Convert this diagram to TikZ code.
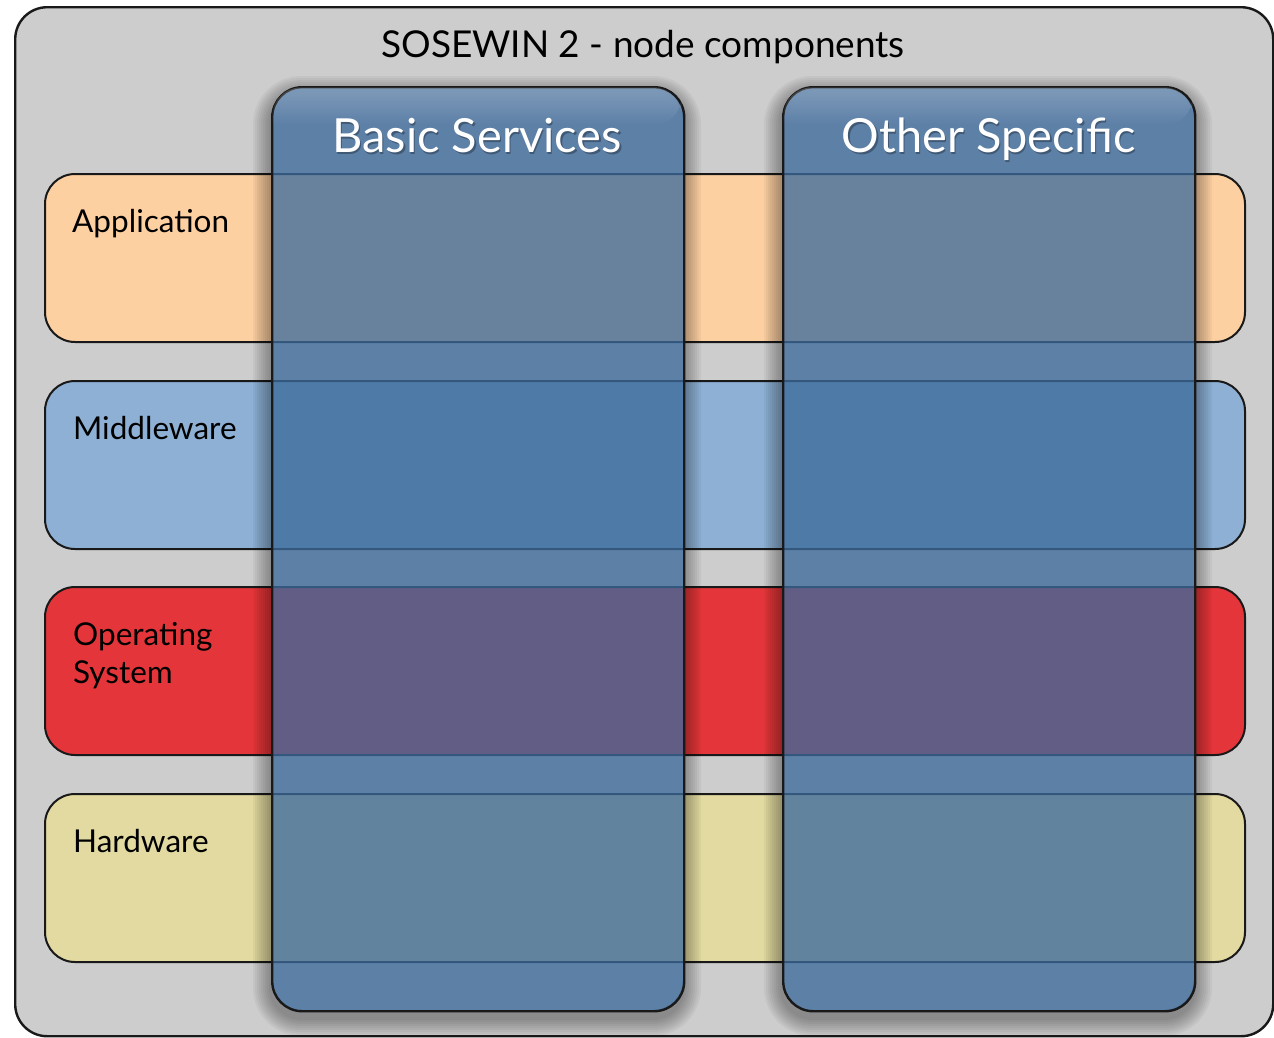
\documentclass[tikz,border=0pt]{standalone}
\usepackage{fontspec}
\setmainfont{Lato}
\usetikzlibrary{fadings}

\definecolor{panelgray}{RGB}{205,205,205}
\definecolor{appcol}{RGB}{253,208,162}
\definecolor{midcol}{RGB}{141,176,212}
\definecolor{oscol}{RGB}{228,54,58}
\definecolor{hwcol}{RGB}{226,218,161}
\definecolor{colblue}{RGB}{60,106,156}
\definecolor{edge}{RGB}{25,25,25}

\tikzset{
  panel/.style={draw=edge, line width=2.4pt, fill=panelgray, rounded corners=32pt,
    anchor=north west, inner sep=0pt, minimum width=1258pt, minimum height=1029pt},
  layer/.style={draw=edge, line width=2pt, rounded corners=30pt, anchor=north west,
    inner sep=0pt, minimum width=1200pt, minimum height=168pt},
  pillar/.style={draw=edge, line width=2.4pt, fill=colblue, fill opacity=0.77,
    draw opacity=1, rounded corners=30pt, anchor=north west, inner sep=0pt,
    minimum width=412pt, minimum height=924pt},
  layerlabel/.style={anchor=base west, inner sep=0pt, font=\fontsize{31.5}{38}\selectfont,
    text=black, align=left},
  pillartitle/.style={anchor=base, inner sep=0pt, font=\fontsize{47}{56}\selectfont, text=white},
  pillarshade/.style={anchor=base, inner sep=0pt, font=\fontsize{47}{56}\selectfont, text=black,
    text opacity=0.3},
}

\newcommand{\pillarshadow}[4]{%
  % soft shadow ring around a pillar, drawn outside its outline only
  \foreach \k in {1,...,9}{
    \pgfmathsetmacro{\d}{2*\k}
    \pgfmathsetmacro{\r}{30+2*\k}
    \fill[black, opacity=0.04, even odd rule]
      [rounded corners=\r pt] ({#1-\d},{#2-\d+8}) rectangle ({#3+\d},{#4+\d+8})
      [rounded corners=30pt] (#1,#2) rectangle (#3,#4);
  }%
}

\begin{document}
\begin{tikzpicture}[x=1pt, y=-1pt]
  \useasboundingbox (0,0) rectangle (1274,1037);

  % outer panel and its heading
  \node[panel] (frame) at (14,6) {};
  \node[anchor=base, inner sep=0pt, font=\fontsize{37}{42}\selectfont] (heading) at (643,57)
    {SOSEWIN 2 - node components};

  % horizontal layers
  \node[layer, fill=appcol] (app) at (44,173) {};
  \node[layer, fill=midcol] (mid) at (44,380) {};
  \node[layer, fill=oscol]  (os)  at (44,586) {};
  \node[layer, fill=hwcol]  (hw)  at (44,793) {};

  \node[layerlabel] (applbl) at (72,232) {Application};
  \node[layerlabel] (midlbl) at (73,439) {Middleware};
  \node[layerlabel, anchor=west] (oslbl) at (73,656) {Operating\\System};
  \node[layerlabel] (hwlbl)  at (73,852) {Hardware};

  % shadows of the vertical pillars
  \pillarshadow{271}{86}{683}{1010}
  \pillarshadow{782}{86}{1194}{1010}

  % vertical pillars
  \node[pillar] (basic) at (271,86) {};
  \node[pillar] (other) at (782,86) {};

  % light sheen along the top of each pillar
  \fill[white, fill opacity=0.22, path fading=south, rounded corners=28pt]
    (272.5,87.5) -- (681.5,87.5) -- (681.5,125) [sharp corners] -- (272.5,125) [rounded corners=28pt] -- cycle;
  \fill[white, fill opacity=0.22, path fading=south, rounded corners=28pt]
    (783.5,87.5) -- (1192.5,87.5) -- (1192.5,125) [sharp corners] -- (783.5,125) [rounded corners=28pt] -- cycle;

  % pillar titles with a faint drop shadow
  \node[pillarshade] (basicsh) at (478.5,154.5) {Basic Services};
  \node[pillartitle] (basiclbl) at (477,152) {Basic Services};
  \node[pillarshade] (othersh) at (990,154.5) {Other Specific};
  \node[pillartitle] (otherlbl) at (988.5,152) {Other Specific};
\end{tikzpicture}
\end{document}
